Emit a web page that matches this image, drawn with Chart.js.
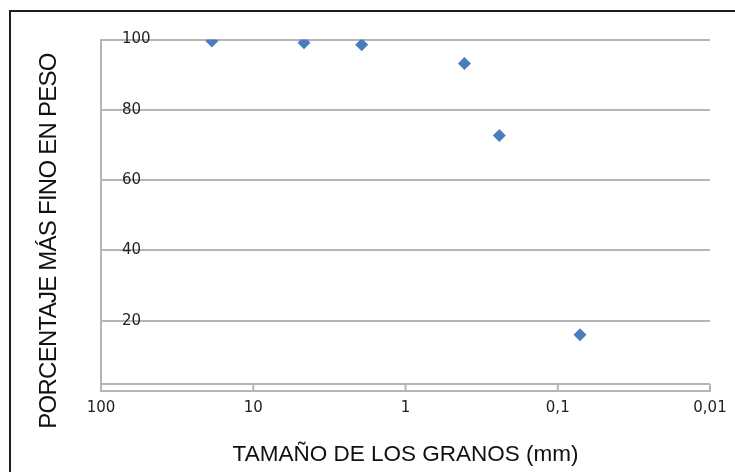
<!DOCTYPE html>
<html lang="es">
<head>
<meta charset="UTF-8">
<title>Curva granulométrica</title>
<script src="https://cdn.jsdelivr.net/npm/chart.js@4.4.1/dist/chart.umd.min.js"></script>
<style>
  html, body { margin: 0; padding: 0; background: #fff; }
  #wrap { position: relative; width: 735px; height: 472px; overflow: hidden; }
  #frame {
    position: absolute; left: 9px; top: 10px; right: -10px; bottom: -10px;
    border-top: 2px solid #1e1e1e; border-left: 2px solid #1e1e1e;
    pointer-events: none;
  }
</style>
</head>
<body>
<div id="wrap">
  <canvas id="chart" width="735" height="472"></canvas>
  <div id="frame"></div>
</div>
<script>
// data
const grainSizes = [18.7, 4.64, 1.94, 0.41, 0.242, 0.0714];  // mm
const percentFiner = [99.6, 99.1, 98.5, 93.2, 72.7, 16.0];   // %
const xTicks = [100, 10, 1, 0.1, 0.01];
const xTickLabels = ['100', '10', '1', '0,1', '0,01'];
const yTicks = [0, 20, 40, 60, 80, 100];
const yTickLabels = ['', '20', '40', '60', '80', '100'];
const xTitle = 'TAMAÑO DE LOS GRANOS (mm)';
const yTitle = 'PORCENTAJE MÁS FINO EN PESO';

const gridColor = '#b5b5b5';
const tickColor = '#262222';
const pointColor = '#4a7ebb';

// the doubled x axis strip with decade marks
const axisBand = {
  id: 'axisBand',
  beforeDatasetsDraw(chart) {
    const { ctx, chartArea } = chart;
    const xs = chart.scales.x;
    const top = chartArea.bottom - 7;
    ctx.save();
    ctx.strokeStyle = gridColor;
    ctx.lineWidth = 2;
    ctx.beginPath();
    ctx.moveTo(chartArea.left, top);
    ctx.lineTo(chartArea.right, top);
    xTicks.forEach(v => {
      const px = xs.getPixelForValue(v);
      ctx.moveTo(px, top);
      ctx.lineTo(px, chartArea.bottom);
    });
    ctx.stroke();
    ctx.restore();
  }
};

// vertical title, a bit off-centre like the original
const yAxisTitle = {
  id: 'yAxisTitle',
  afterDraw(chart) {
    const ctx = chart.ctx;
    ctx.save();
    ctx.translate(49, 241);
    ctx.rotate(-Math.PI / 2);
    ctx.font = '24px "Liberation Sans", Arial, sans-serif';
    if ('letterSpacing' in ctx) ctx.letterSpacing = '-0.75px';
    ctx.fillStyle = '#111';
    ctx.textAlign = 'center';
    ctx.textBaseline = 'middle';
    ctx.fillText(yTitle, 0, 0);
    ctx.restore();
  }
};

new Chart(document.getElementById('chart'), {
  type: 'scatter',
  data: {
    datasets: [{
      data: grainSizes.map((x, i) => ({ x: x, y: percentFiner[i] })),
      pointStyle: 'rectRot',
      pointRadius: 6.5,
      backgroundColor: pointColor,
      borderColor: pointColor,
      borderWidth: 0
    }]
  },
  options: {
    responsive: false,
    animation: false,
    events: [],
    layout: { padding: { left: 59, right: 25, top: 39.5, bottom: 4 } },
    plugins: {
      legend: { display: false },
      tooltip: { enabled: false }
    },
    scales: {
      x: {
        type: 'logarithmic',
        position: 'bottom',
        reverse: true,
        min: 0.01,
        max: 100,
        afterBuildTicks: scale => { scale.ticks = xTicks.map(v => ({ value: v })); },
        ticks: {
          autoSkip: false,
          maxRotation: 0,
          padding: 8,
          color: tickColor,
          font: { family: '"DejaVu Sans", Verdana, sans-serif', size: 15 },
          callback: (v, i) => xTickLabels[i]
        },
        grid: { display: true, drawOnChartArea: false, drawTicks: false },
        border: { display: true, color: gridColor, width: 2 },
        title: {
          display: true,
          text: xTitle,
          color: '#111',
          font: { family: '"Liberation Sans", Arial, sans-serif', size: 22.5 },
          padding: { top: 16, bottom: 0 }
        }
      },
      y: {
        min: 0,
        max: 100,
        afterBuildTicks: scale => { scale.ticks = yTicks.map(v => ({ value: v })); },
        ticks: {
          mirror: true,
          padding: 21,
          color: tickColor,
          font: { family: '"DejaVu Sans", Verdana, sans-serif', size: 15 },
          callback: (v, i) => yTickLabels[i]
        },
        grid: { color: gridColor, lineWidth: 2, drawTicks: false },
        border: { display: true, color: gridColor, width: 2 }
      }
    }
  },
  plugins: [axisBand, yAxisTitle]
});
</script>
</body>
</html>
